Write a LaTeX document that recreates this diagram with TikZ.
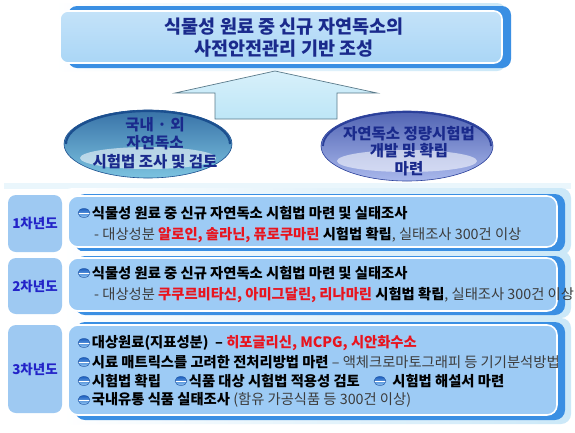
\documentclass[tikz,border=0pt]{standalone}
\usepackage{fontspec}
\setmainfont{Noto Sans CJK KR}
\usetikzlibrary{shapes.geometric,calc}
\definecolor{navy}{HTML}{1A2A8C}
\definecolor{tabtxt}{HTML}{2323C8}
\definecolor{redtxt}{HTML}{E8141E}
\definecolor{gry}{HTML}{3C3C3C}
\definecolor{boxfill}{HTML}{9DCBF5}
\definecolor{boxshadow}{HTML}{3A8FE3}
\definecolor{tabfill}{HTML}{9EC9F2}
\definecolor{halo}{HTML}{CBE8F8}
\definecolor{topfill}{HTML}{AAD6F6}
\definecolor{arrowfill}{HTML}{BDE6F7}
\definecolor{arrowline}{HTML}{5A7A8A}
\definecolor{bulA}{HTML}{1D5FC0}
\definecolor{bulB}{HTML}{8FC4F2}
\definecolor{bulC}{HTML}{1A4FA0}
\definecolor{lrim}{HTML}{1B4F8F}
\definecolor{lmid}{HTML}{7CC3E0}
\definecolor{llow}{HTML}{DDF4FA}
\definecolor{rrim}{HTML}{2A3F9A}
\definecolor{rmid}{HTML}{A9B8EC}
\definecolor{rlow}{HTML}{E6ECFB}
\begin{document}
\begin{tikzpicture}[x=1pt,y=-1pt,
  txt/.style={inner sep=0, anchor=west, font=\fontsize{14.3}{16}\selectfont\bfseries},
  bul/.style={ellipse, inner sep=0, minimum width=12, minimum height=9,
    top color=bulA, bottom color=bulB, draw=bulC, line width=0.4,
    path picture={\draw[white, line width=0.9] (path picture bounding box.west) -- (path picture bounding box.east);}},
  tabbox/.style={rounded corners=8, fill=tabfill, inner sep=0, minimum width=54,
    font=\fontsize{13.5}{14}\selectfont\bfseries, text=tabtxt},
  mainbox/.style={rounded corners=10, fill=boxfill, draw=white, line width=1.6, inner sep=0, minimum width=489},
  etext/.style={align=center, inner sep=0, font=\fontsize{15.5}{18.5}\selectfont\bfseries, text=navy}
]
\useasboundingbox (0,0) rectangle (575,432);
\fill[white] (0,0) rectangle (575,432);

% ---- top box
\shade[left color=white, right color=halo, rounded corners=9] (54,3) rectangle (506,71);
\fill[boxshadow, rounded corners=9] (68,6) rectangle (511,68);
\node[rounded corners=8, top color=topfill!70!white, bottom color=topfill, draw=white, line width=1.6,
  minimum width=442, minimum height=52, inner sep=0] (top) at (281,37) {};
\node[align=center, inner sep=0, font=\fontsize{18.5}{22}\selectfont\bfseries, text=navy] (title) at (284,38)
  {식물성 원료 중 신규 자연독소의\\사전안전관리 기반 조성};

% ---- arrow
\draw[arrowline, line width=0.7, top color=arrowfill!60!white, bottom color=arrowfill]
  (275,71) -- (377,93) -- (337,93) -- (337,119) -- (215,119) -- (215,93) -- (175,93) -- cycle;

% ---- left ellipse
\node[ellipse, minimum width=168, minimum height=68, inner sep=0,
  top color=lrim!70!lmid, middle color=llow, bottom color=lmid, draw=lrim, line width=0.6] (e1) at (148,144) {};
\fill[white, opacity=0.55] (148,158) ellipse [x radius=68, y radius=11];
\draw[lrim, line width=2.2] ($(e1.center)+(-82,0)$) arc[start angle=180, end angle=360, x radius=82, y radius=33];
\node[etext] (e1t) at (155,143) {국내 · 외\\자연독소\\시험법 조사 및 검토};

% ---- right ellipse
\node[ellipse, minimum width=172, minimum height=70, inner sep=0,
  top color=rrim!70!rmid, middle color=rlow, bottom color=rmid, draw=rrim, line width=0.6] (e2) at (407,146) {};
\fill[white, opacity=0.55] (407,161) ellipse [x radius=70, y radius=11];
\draw[rrim, line width=1.8] ($(e2.center)+(-84,0)$) arc[start angle=180, end angle=360, x radius=84, y radius=34];
\node[etext, font=\fontsize{15.5}{17.5}\selectfont\bfseries] (e2t) at (409,151) {자연독소 정량시험법\\개발 및 확립\\마련};

% separator strip
\fill[halo!40!white] (4,183) rectangle (571,189);

% ---- section 1
\shade[left color=white, right color=halo, rounded corners=10] (62,188) rectangle (571,255);
\fill[boxshadow, rounded corners=10] (75,194) rectangle (565,252);
\node[mainbox, minimum height=51] (m1) at (312.5,221.5) {};
\node[tabbox, minimum height=57] (tab1) at (35,223.5) {1차년도};
\node[bul] (b11) at (84,213) {};
\node[txt] (t11) at ($(b11.east)+(1.5,0)$) {식물성 원료 중 신규 자연독소 시험법 마련 및 실태조사};
\node[txt] (t12) at (94,235) {\mdseries\color{gry}- 대상성분 \bfseries\color{redtxt}알로인, 솔라닌, 퓨로쿠마린 \color{black}시험법 확립\mdseries\color{gry}, 실태조사 300건 이상};

% ---- section 2
\shade[left color=white, right color=halo, rounded corners=10] (62,251) rectangle (571,318);
\fill[boxshadow, rounded corners=10] (75,256) rectangle (565,315);
\node[mainbox, minimum height=53] (m2) at (312.5,284.5) {};
\node[tabbox, minimum height=56] (tab2) at (35,286) {2차년도};
\node[bul] (b21) at (84,273) {};
\node[txt] (t21) at ($(b21.east)+(1.5,0)$) {식물성 원료 중 신규 자연독소 시험법 마련 및 실태조사};
\node[txt] (t22) at (94,295) {\mdseries\color{gry}- 대상성분 \bfseries\color{redtxt}쿠쿠르비타신, 아미그달린, 리나마린 \color{black}시험법 확립\mdseries\color{gry}, 실태조사 300건 이상};

% ---- section 3
\shade[left color=white, right color=halo, rounded corners=10] (62,318) rectangle (571,424);
\fill[boxshadow, rounded corners=10] (75,322) rectangle (565,420);
\node[mainbox, minimum height=90] (m3) at (312.5,370) {};
\node[tabbox, minimum height=88] (tab3) at (35,369) {3차년도};
\node[bul] (b31) at (84,343) {};
\node[txt] (t31) at ($(b31.east)+(1.5,0)$) {대상원료(지표성분)\ \ – \color{redtxt}히포글리신, MCPG, 시안화수소};
\node[bul] (b32) at (84,362) {};
\node[txt] (t32) at ($(b32.east)+(1.5,0)$) {시료 매트릭스를 고려한 전처리방법 마련 \mdseries\color{gry}– 액체크로마토그래피 등 기기분석방법};
\node[bul] (b33) at (84,381) {};
\node[txt] (t33) at ($(b33.east)+(1.5,0)$) {시험법 확립};
\node[bul] (b34) at (181,381) {};
\node[txt] (t34) at ($(b34.east)+(1.5,0)$) {식품 대상 시험법 적용성 검토};
\node[bul] (b35) at (380,381) {};
\node[txt] (t35) at ($(b35.east)+(6,0)$) {시험법 해설서 마련};
\node[bul] (b36) at (84,400) {};
\node[txt] (t36) at ($(b36.east)+(1.5,0)$) {국내유통 식품 실태조사 \mdseries\color{gry}(함유 가공식품 등 300건 이상)};
\end{tikzpicture}
\end{document}
